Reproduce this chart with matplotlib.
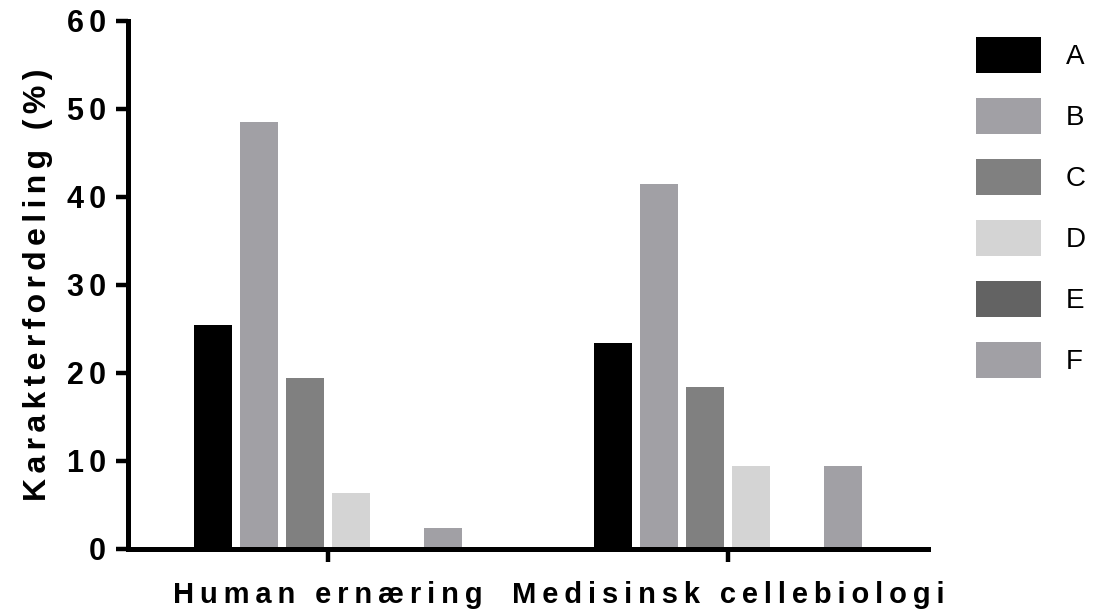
import numpy as np
import matplotlib
matplotlib.use("Agg")
import matplotlib.pyplot as plt

plt.rcParams["font.family"] = ["Liberation Sans", "DejaVu Sans"]

# data
courses = ["Human ernæring", "Medisinsk cellebiologi"]
grades = ["A", "B", "C", "D", "E", "F"]
grade_A = [25.4, 23.4]
grade_B = [48.5, 41.5]
grade_C = [19.4, 18.4]
grade_D = [6.4, 9.4]
grade_E = [0.0, 0.0]
grade_F = [2.4, 9.4]
yticks = [0, 10, 20, 30, 40, 50, 60]

colors = ["#000000", "#a1a0a5", "#808080", "#d4d4d4", "#636363", "#a1a0a5"]


def spaced(s, gap="\u2009"):
    # fake letter spacing, prism style
    return (gap + " " + gap).join(gap.join(w) for w in s.split(" "))


fig = plt.figure(figsize=(10.96, 6.13), dpi=100)
ax = fig.add_axes([128 / 1096, 64 / 613, 800 / 1096, 528 / 613])

x = np.arange(len(courses))
pitch, width = 0.115, 0.095
series = [grade_A, grade_B, grade_C, grade_D, grade_E, grade_F]
for i, (vals, g) in enumerate(zip(series, grades)):
    ax.bar(x + (i - 2.5) * pitch, vals, width, color=colors[i], label=g, linewidth=0)

ax.set_xlim(-0.5, 1.5)
ax.set_ylim(0, 60)
ax.set_yticks(yticks)
ax.set_yticklabels([spaced(str(t), "\u2006") for t in yticks], fontsize=22, fontweight="bold")
ax.set_xticks(x)
ax.set_xticklabels([spaced(c) for c in courses], fontsize=21, fontweight="bold")

for s in ["top", "right"]:
    ax.spines[s].set_visible(False)
for s in ["left", "bottom"]:
    ax.spines[s].set_linewidth(3.6)
    ax.spines[s].set_capstyle("projecting")
ax.tick_params(axis="both", direction="out", length=9, width=3.2, color="black")
ax.tick_params(axis="y", pad=7)
ax.tick_params(axis="x", pad=14)

ax.set_ylabel(spaced("Karakterfordeling (%)", "\u2006"), fontsize=23, fontweight="bold", labelpad=10)

leg = ax.legend(loc="upper left", bbox_to_anchor=(976 / 1096, 1 - 37 / 613),
                bbox_transform=fig.transFigure, frameon=False, fontsize=20,
                handlelength=2.34, handleheight=1.615, labelspacing=0.9,
                handletextpad=0.9, borderpad=0, borderaxespad=0)

fig.savefig("out.png", dpi=100)
